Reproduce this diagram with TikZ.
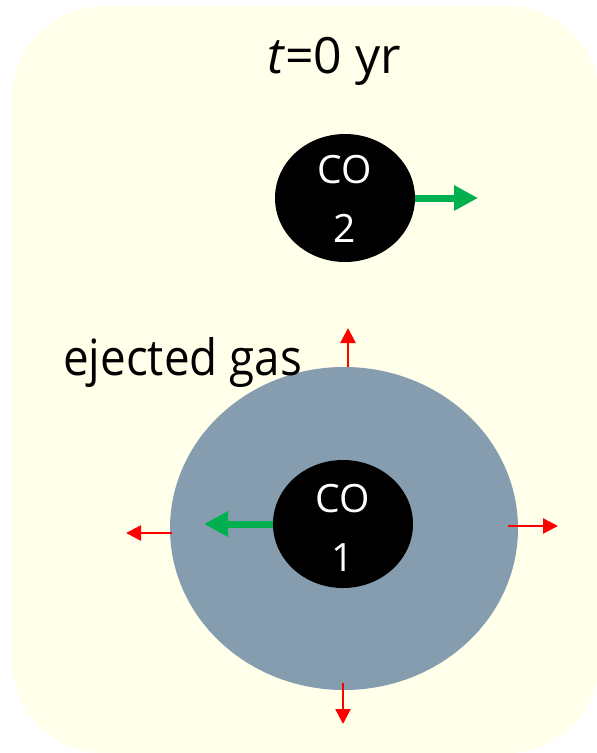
\documentclass[tikz,border=0pt]{standalone}
\usepackage{fontspec}
\setmainfont{Open Sans}
\usetikzlibrary{arrows.meta,shapes.geometric}
\definecolor{bgy}{HTML}{FFFFEA}
\definecolor{gasgray}{HTML}{869DB0}
\definecolor{cogreen}{HTML}{00B050}
\definecolor{ejred}{HTML}{FF0000}
\tikzset{
  coobj/.style={ellipse, fill=black, minimum width=140pt, minimum height=128pt, inner sep=0pt},
  colabel/.style={text=white, font=\fontsize{39}{59}\selectfont, align=center},
  greenarrow/.style={draw=cogreen, line width=7pt, -{Triangle[length=24pt,width=24pt]}},
  redarrow/.style={draw=ejred, line width=2.5pt, -{Triangle[length=15pt,width=15pt]}},
  bigtext/.style={font=\fontsize{50}{60}\selectfont, inner sep=0pt}
}
\begin{document}
\begin{tikzpicture}[x=1pt,y=-1pt]
\useasboundingbox (0,0) rectangle (597,753);
\begin{scope}
\clip (0,0) rectangle (597,753);
\fill[bgy, rounded corners=92pt] (12,6) rectangle (599,753);
\end{scope}
\node[bigtext, anchor=base] (title) at (334,73) {\textit{t}=0 yr};
% ejected gas shell
\fill[gasgray] (344,528.5) ellipse [x radius=174, y radius=161.5];
\node[bigtext, anchor=base west] (gaslabel) at (63,375) {\scalebox{0.915}[1]{ejected gas}};
\coordinate (sT) at (348,367);
\coordinate (sTe) at (348,328);
\coordinate (sB) at (343,683);
\coordinate (sBe) at (343,724);
\coordinate (sL) at (172,533);
\coordinate (sLe) at (126,533);
\coordinate (sR) at (508,526);
\coordinate (sRe) at (558,526);
\draw[redarrow] (sT) -- (sTe);
\draw[redarrow] (sB) -- (sBe);
\draw[redarrow] (sL) -- (sLe);
\draw[redarrow] (sR) -- (sRe);
% CO objects
\node[coobj] (co2) at (345,198) {};
\node[colabel] (co2label) at (345,199) {CO\\2};
\node[coobj] (co1) at (343,524) {};
\node[colabel] (co1label) at (343,528) {CO\\1};
\coordinate (g2) at (478,198);
\coordinate (g1) at (204,524);
\draw[greenarrow] (co2.east) -- (g2);
\draw[greenarrow] (co1.west) -- (g1);
\end{tikzpicture}
\end{document}
